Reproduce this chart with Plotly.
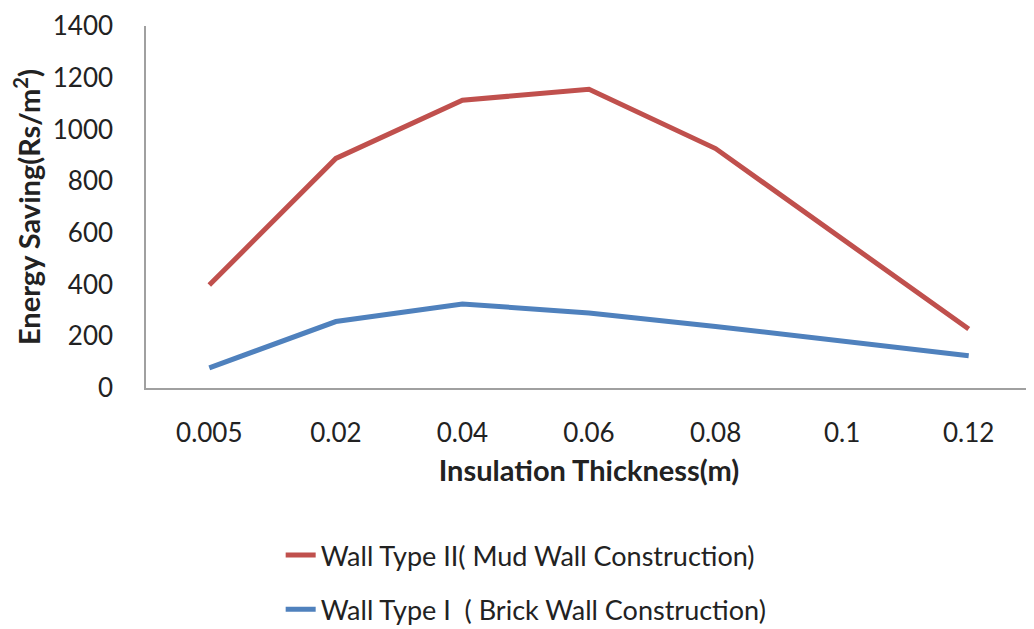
import plotly.graph_objects as go

thickness = ["0.005", "0.02", "0.04", "0.06", "0.08", "0.1", "0.12"]
mud_wall = [398, 888, 1113, 1155, 926, 575, 228]
brick_wall = [78, 257, 325, 290, 238, 182, 125]

FONT = "Lato, 'Open Sans', sans-serif"

fig = go.Figure()
fig.add_trace(go.Scatter(
    x=thickness, y=mud_wall, mode="lines",
    name="Wall Type II( Mud Wall Construction)",
    line=dict(color="#c0504d", width=5),
    legendgroup="a",
))
fig.add_trace(go.Scatter(
    x=thickness, y=brick_wall, mode="lines",
    name="Wall Type I  ( Brick Wall Construction)",
    line=dict(color="#4f81bd", width=5),
    legendgroup="b",
))

fig.update_layout(
    width=1026, height=621,
    margin=dict(l=138, r=2, t=18, b=241, autoexpand=False),
    paper_bgcolor="white", plot_bgcolor="white",
    font=dict(family=FONT, size=26, color="#222"),
    xaxis=dict(
        type="category", showgrid=False, showline=True,
        linecolor="#a0a0a0", linewidth=1.5, ticks="",
        tickfont=dict(size=26, color="#222"),
        ticklabelstandoff=21, ticklabeloverflow="allow",
        title=dict(text="<b>Insulation Thickness(m)</b>", font=dict(size=29), standoff=14),
        range=[-0.5, 6.5], automargin=False,
    ),
    yaxis=dict(
        range=[0, 1400], dtick=200, showgrid=False, showline=True,
        linecolor="#a0a0a0", linewidth=1.5, ticks="", zeroline=False,
        tickfont=dict(size=26, color="#222"),
        ticklabelstandoff=26, ticklabeloverflow="allow",
        title=dict(text="<b>Energy Saving(Rs/m<sup>2</sup>)</b>", font=dict(size=29), standoff=10),
        automargin=False,
    ),
    legend=dict(
        x=0.152, y=-0.395, xanchor="left", yanchor="top",
        orientation="v", font=dict(size=27, color="#222"),
        tracegroupgap=16, traceorder="grouped",
        bgcolor="rgba(0,0,0,0)",
    ),
    showlegend=True,
)

fig.write_html("out.html")
